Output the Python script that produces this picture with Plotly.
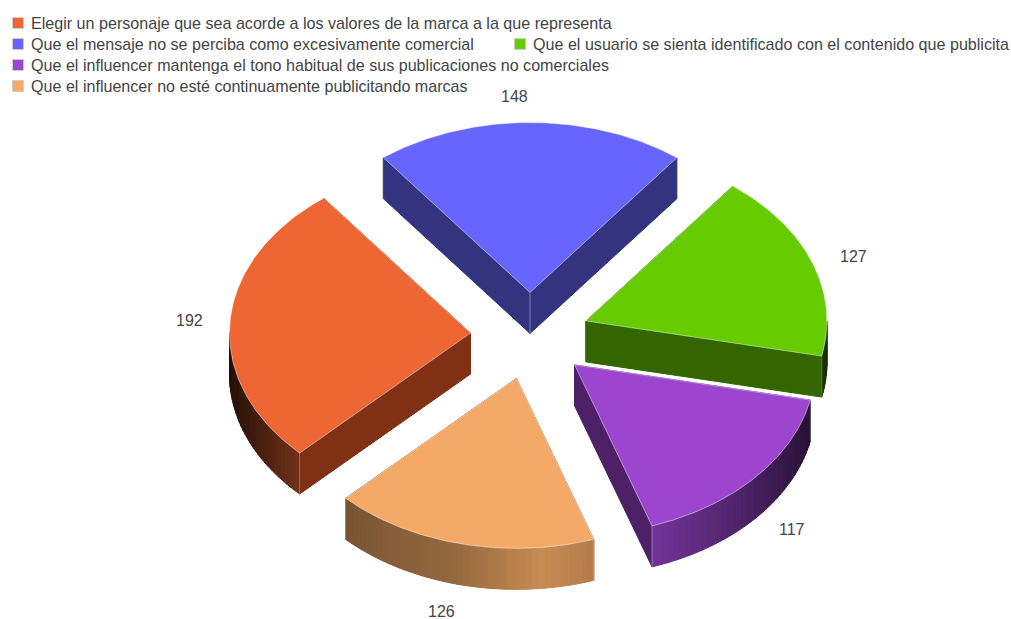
import numpy as np
import plotly.graph_objects as go

# ---- data ----
categories = [
    "Elegir un personaje que sea acorde a los valores de la marca a la que representa",
    "Que el mensaje no se perciba como excesivamente comercial",
    "Que el usuario se sienta identificado con el contenido que publicita",
    "Que el influencer mantenga el tono habitual de sus publicaciones no comerciales",
    "Que el influencer no esté continuamente publicitando marcas",
]
values = [192, 148, 127, 117, 126]
top_colors = ["#EE6633", "#6666FF", "#66CC00", "#9C46CF", "#F4AA66"]
cut_colors = ["#7F3015", "#33337F", "#336600", "#4E2068", "#7F5530"]

# ---- projection / style ----
CX, CY = 530.0, 336.0
RX, RY = 241.0, 170.0
DEPTH = 41.0
EXPLODE_X, EXPLODE_Y = 0.2475, 0.256
START_DEG = -37.5 - 192 / 710 * 360   # first slice starts here, clockwise from top
FONT = "Liberation Sans, Arial, sans-serif"
TEXT = "#444444"
draw_order = [1, 2, 0, 3, 4]
label_offset = {0: (-341, -16), 1: (-16, -240), 2: (323, -80), 3: (262, 193), 4: (-89, 275)}
legend_rows = [(12, 23), (12, 44), (514, 44), (12, 65), (12, 86)]


def pt(ax, ay, deg):
    t = np.radians(deg)
    return ax + RX * np.sin(t), ay - RY * np.cos(t)


def shade(deg):
    s = np.sin(np.radians(deg))
    return float(np.interp(s, [-1.0, -0.7, -0.25, 0.1, 0.35, 0.7, 1.0],
                           [0.16, 0.50, 0.62, 0.82, 0.72, 0.50, 0.24]))


def mix(hex_color, f):
    r, g, b = [int(hex_color[i:i + 2], 16) for i in (1, 3, 5)]
    return f"rgb({int(r * f)},{int(g * f)},{int(b * f)})"


total = sum(values)
angles = np.cumsum([0] + values) / total * 360 + START_DEG

fig = go.Figure()


def poly(xs, ys, fill, line=None, width=1):
    fig.add_trace(go.Scatter(x=list(xs), y=list(ys), mode="lines", fill="toself",
                             fillcolor=fill, line=dict(color=line or fill, width=width),
                             hoverinfo="skip", showlegend=False))


for i in draw_order:
    a0, a1 = angles[i], angles[i + 1]
    mid = (a0 + a1) / 2
    ax = CX + EXPLODE_X * RX * np.sin(np.radians(mid))
    ay = CY - EXPLODE_Y * RY * np.cos(np.radians(mid))
    # cut faces
    for a in (a0, a1):
        ex, ey = pt(ax, ay, a)
        poly([ax, ex, ex, ax, ax], [ay, ey, ey + DEPTH, ay + DEPTH, ay], cut_colors[i])
    # outer wall, only where it faces the viewer
    steps = np.arange(a0, a1 + 1.5, 1.5)
    steps[-1] = a1
    for u, v in zip(steps[:-1], steps[1:]):
        if np.cos(np.radians((u + v) / 2)) < 0:
            x0, y0 = pt(ax, ay, u)
            x1, y1 = pt(ax, ay, v)
            c = mix(top_colors[i], shade((u + v) / 2))
            poly([x0, x1, x1, x0, x0], [y0, y1, y1 + DEPTH, y0 + DEPTH, y0], c)
    # vertical edges
    for a in (a0, a1):
        ex, ey = pt(ax, ay, a)
        if np.cos(np.radians(a)) < 0:
            fig.add_trace(go.Scatter(x=[ex, ex], y=[ey, ey + DEPTH], mode="lines",
                                     line=dict(color="rgba(255,255,255,0.3)", width=1),
                                     hoverinfo="skip", showlegend=False))
    if np.cos(np.radians(mid)) > 0.9:
        fig.add_trace(go.Scatter(x=[ax, ax], y=[ay, ay + DEPTH], mode="lines",
                                 line=dict(color="rgba(255,255,255,0.4)", width=1),
                                 hoverinfo="skip", showlegend=False))
    # top face
    arc = np.linspace(a0, a1, 120)
    px, py = pt(ax, ay, arc)
    poly([ax, *px, ax], [ay, *py, ay], top_colors[i], "rgba(255,255,255,0.45)", 1)

annotations = []
for i, (lx, ly) in enumerate(legend_rows):
    fig.add_trace(go.Scatter(x=[lx + 6], y=[ly], mode="markers", hoverinfo="skip", showlegend=False,
                             marker=dict(symbol="square", size=11, color=top_colors[i],
                                         line=dict(color="#CCCCCC", width=1))))
    annotations.append(dict(x=lx + 17, y=ly - 0.5, text=categories[i], xref="x", yref="y",
                            xanchor="left", yanchor="middle", showarrow=False,
                            font=dict(family=FONT, size=16.1, color=TEXT)))

for i, v in enumerate(values):
    dx, dy = label_offset[i]
    annotations.append(dict(x=CX + dx, y=CY + dy, text=str(v), xref="x", yref="y",
                            xanchor="center", yanchor="middle", showarrow=False,
                            font=dict(family=FONT, size=16, color=TEXT)))

fig.update_layout(
    width=1011, height=619, margin=dict(l=0, r=0, t=0, b=0),
    paper_bgcolor="white", plot_bgcolor="white", showlegend=False,
    xaxis=dict(range=[0, 1011], visible=False, fixedrange=True),
    yaxis=dict(range=[619, 0], visible=False, fixedrange=True),
    annotations=annotations,
)
fig.write_html("out.html", config=dict(displayModeBar=False),
               default_width="1011px", default_height="619px",
               post_script="document.body.style.margin='0';document.body.style.overflow='hidden';")
